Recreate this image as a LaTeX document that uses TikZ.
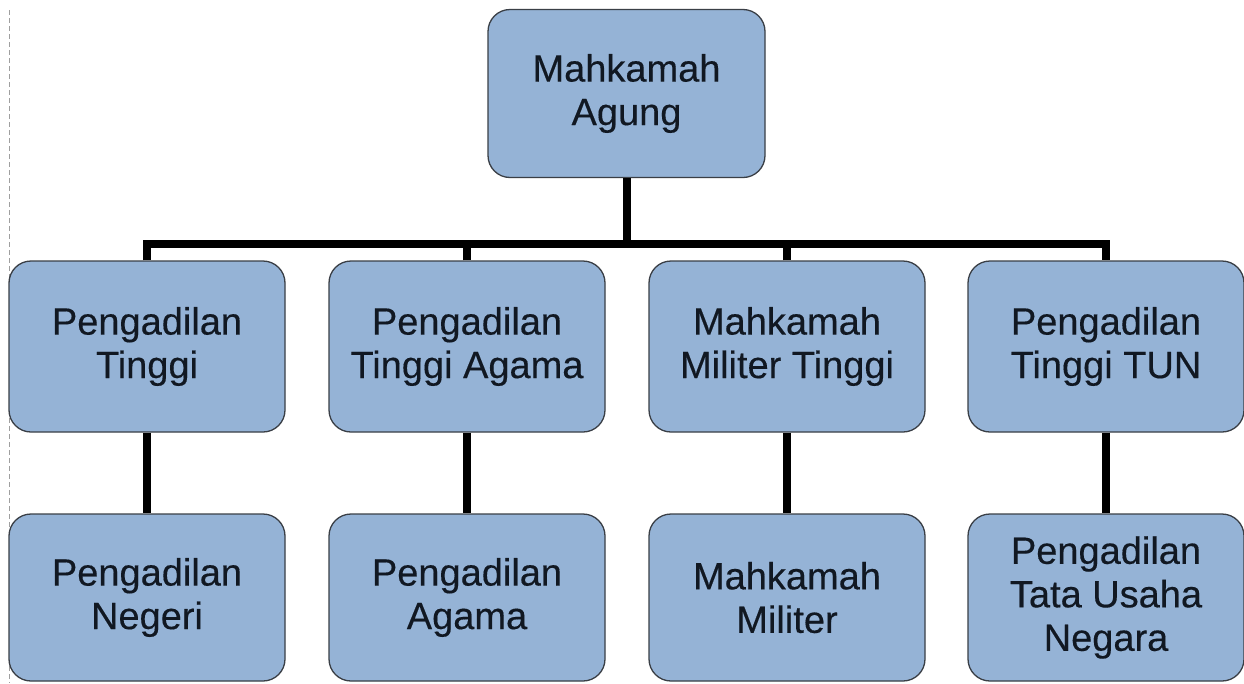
\documentclass[tikz,border=0pt]{standalone}
\usepackage{fontspec}
\setmainfont{Liberation Sans}
\newfontfamily\boxfont[FakeBold=0.3]{Liberation Sans}
\definecolor{boxfill}{HTML}{95B3D6}
\definecolor{boxline}{HTML}{3A3F46}
\definecolor{textc}{HTML}{111822}
\begin{document}
\begin{tikzpicture}[x=1pt,y=-1pt,
  box/.style={draw=boxline, line width=1.3pt, fill=boxfill, rounded corners=22pt,
    minimum width=276pt, minimum height=169pt, inner sep=0pt, align=center,
    text=textc, font=\boxfont\fontsize{38}{43.5}\selectfont},
  conn/.style={line width=8pt, draw=black, line join=miter},
  guide/.style={draw=gray!75, line width=0.9pt, dash pattern=on 5pt off 3pt}]
\useasboundingbox (0,0) rectangle (1244,683);
\fill[white] (0,0) rectangle (1244,683);
\draw[guide] (9,10) -- (9,683);

\node[box, minimum width=277pt, minimum height=168pt] (ma) at (626.5,93.5) {Mahkamah\\Agung};

\node[box, minimum height=171pt] (b1) at (147,346.5) {Pengadilan\\Tinggi};
\node[box, minimum height=171pt] (b2) at (467,346.5) {Pengadilan\\Tinggi Agama};
\node[box, minimum height=171pt] (b3) at (787,346.5) {Mahkamah\\Militer Tinggi};
\node[box, minimum height=171pt] (b4) at (1106,346.5) {Pengadilan\\Tinggi TUN};

\node[box, minimum height=167pt] (c1) at (147,597.5) {Pengadilan\\Negeri};
\node[box, minimum height=167pt] (c2) at (467,597.5) {Pengadilan\\Agama};
\node[box, minimum height=167pt] (c3) at (787,597.5) {Mahkamah\\Militer};
\node[box, minimum height=167pt] (c4) at (1106,597.5) {Pengadilan\\Tata Usaha\\Negara};

\coordinate (bar) at (0,244);
\draw[conn] (ma.south) -- (ma.south |- bar);
\draw[conn] (b1.north) -- (b1.north |- bar) -- (b4.north |- bar) -- (b4.north);
\draw[conn] (b2.north) -- (b2.north |- bar);
\draw[conn] (b3.north) -- (b3.north |- bar);

\draw[conn] (b1.south) -- (c1.north);
\draw[conn] (b2.south) -- (c2.north);
\draw[conn] (b3.south) -- (c3.north);
\draw[conn] (b4.south) -- (c4.north);
\end{tikzpicture}
\end{document}
